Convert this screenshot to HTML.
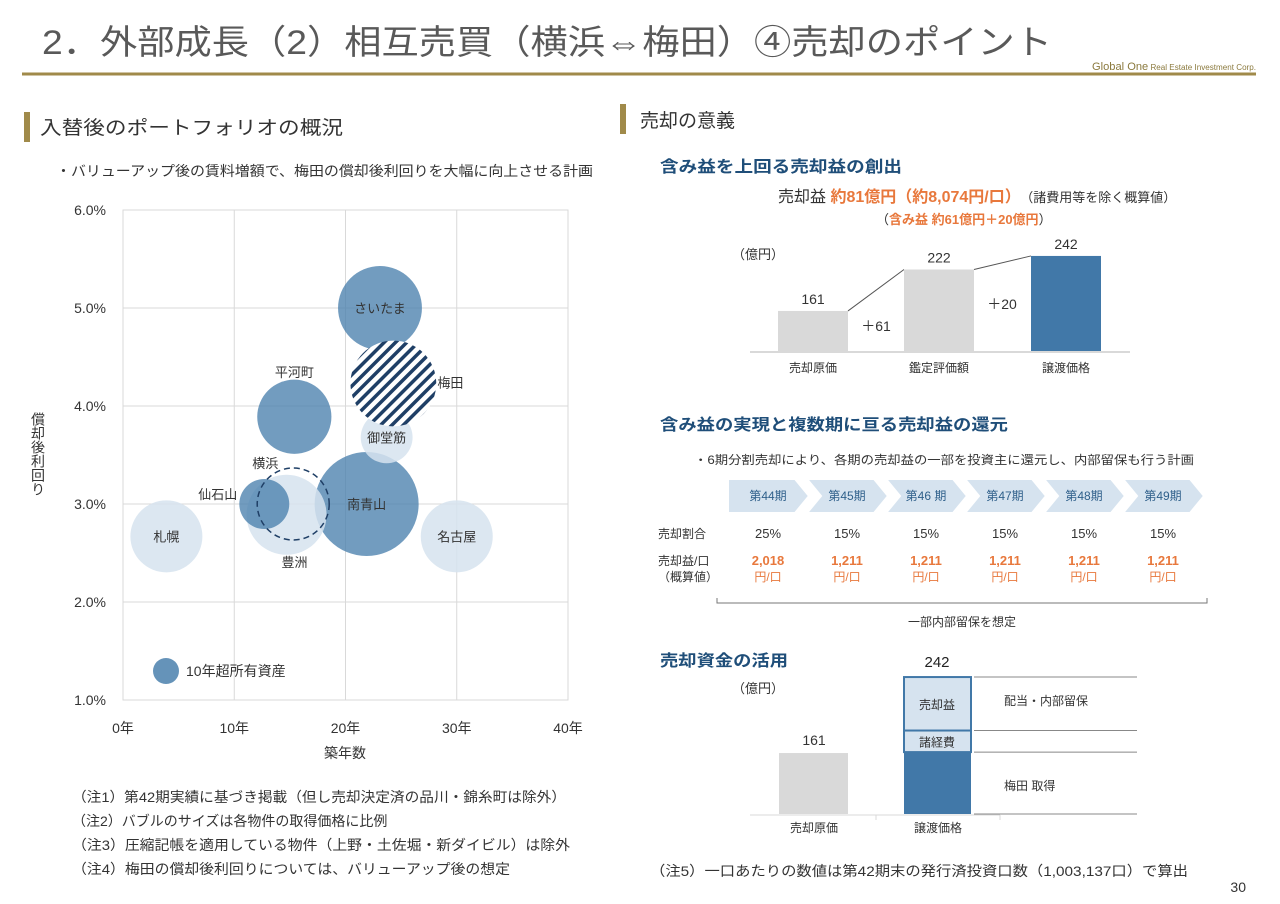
<!DOCTYPE html>
<html><head><meta charset="utf-8"><style>
body{margin:0;background:#fff;}
svg{display:block;font-family:"Liberation Sans","Noto Sans CJK JP",sans-serif;}
</style></head><body>
<svg id="s" width="1280" height="904" viewBox="0 0 1280 904" xmlns="http://www.w3.org/2000/svg">
<defs>
<pattern id="hatch" patternUnits="userSpaceOnUse" width="8" height="8" patternTransform="rotate(45)">
<rect width="8" height="8" fill="#fff"/><rect width="3.5" height="8" fill="#1f3f66"/>
</pattern>
</defs>
<text x="42" y="54" font-size="34" fill="#595959" textLength="1010" lengthAdjust="spacingAndGlyphs">2．外部成長（2）相互売買（横浜⇔梅田）④売却のポイント</text>
<line x1="22" y1="74" x2="1256" y2="74" stroke="#a08a4a" stroke-width="3"/>
<text x="1092" y="70" font-size="8" fill="#8b7a3e" textLength="164" lengthAdjust="spacingAndGlyphs"><tspan font-size="11">Global One</tspan> Real Estate Investment Corp.</text>

<rect x="24" y="112" width="6" height="30" fill="#a08a4a"/>
<text x="40" y="134" font-size="19" fill="#333" textLength="303" lengthAdjust="spacingAndGlyphs">入替後のポートフォリオの概況</text>
<text x="56" y="176" font-size="14" fill="#333" textLength="537" lengthAdjust="spacingAndGlyphs">・バリューアップ後の賃料増額で、梅田の償却後利回りを大幅に向上させる計画</text>

<rect x="620" y="104" width="6" height="30" fill="#a08a4a"/>
<text x="640" y="127" font-size="19" fill="#333">売却の意義</text>

<g id="bubble"></g>

<text x="72" y="802" font-size="14" fill="#333" textLength="494" lengthAdjust="spacingAndGlyphs">（注1）第42期実績に基づき掲載（但し売却決定済の品川・錦糸町は除外）</text>
<text x="72" y="826" font-size="14" fill="#333">（注2）バブルのサイズは各物件の取得価格に比例</text>
<text x="72" y="850" font-size="14" fill="#333" textLength="498" lengthAdjust="spacingAndGlyphs">（注3）圧縮記帳を適用している物件（上野・土佐堀・新ダイビル）は除外</text>
<text x="72" y="874" font-size="14" fill="#333" textLength="438" lengthAdjust="spacingAndGlyphs">（注4）梅田の償却後利回りについては、バリューアップ後の想定</text>

<text x="660" y="172" font-size="16" font-weight="bold" fill="#1f4e79" textLength="242" lengthAdjust="spacingAndGlyphs">含み益を上回る売却益の創出</text>
<text x="778" y="202" font-size="16" fill="#333">売却益 <tspan fill="#e8783c" font-weight="bold">約81億円（約8,074円/口）</tspan><tspan font-size="13" dx="6">（諸費用等を除く概算値）</tspan></text>
<text x="876" y="224" font-size="13" fill="#333">（<tspan fill="#e8783c" font-weight="bold">含み益 約61億円＋20億円</tspan>）</text>
<g id="wf"></g>

<text x="660" y="430" font-size="16" font-weight="bold" fill="#1f4e79" textLength="348" lengthAdjust="spacingAndGlyphs">含み益の実現と複数期に亘る売却益の還元</text>
<text x="694" y="464" font-size="12" fill="#333" textLength="500" lengthAdjust="spacingAndGlyphs">・6期分割売却により、各期の売却益の一部を投資主に還元し、内部留保も行う計画</text>
<g id="periods"></g>
<text x="658" y="538" font-size="12" fill="#333">売却割合</text>
<text x="658" y="565" font-size="12" fill="#333">売却益/口</text>
<text x="658" y="581" font-size="12" fill="#333">（概算値）</text>
<path d="M717 598 V603 H1207 V598" fill="none" stroke="#777"/>
<text x="962" y="626" font-size="12" fill="#333" text-anchor="middle">一部内部留保を想定</text>

<text x="660" y="666" font-size="16" font-weight="bold" fill="#1f4e79" textLength="128" lengthAdjust="spacingAndGlyphs">売却資金の活用</text>
<g id="st"></g>
<text x="650" y="876" font-size="14" fill="#333" textLength="538" lengthAdjust="spacingAndGlyphs">（注5）一口あたりの数値は第42期末の発行済投資口数（1,003,137口）で算出</text>
<text x="1246" y="892" font-size="14" fill="#333" text-anchor="end">30</text>
</svg>
<script>
// ---- bubble chart data ----
const bubbleNames=["さいたま","梅田","平河町","御堂筋","南青山","仙石山","豊洲","横浜","札幌","名古屋"];
const bubbleAge=[23.1,24.3,15.4,23.7,21.9,12.7,14.7,15.3,3.9,30.0];
const bubbleYield=[5.0,4.23,3.89,3.68,3.0,3.0,2.89,3.0,2.67,2.67];
const bubblePrice=[110,115,86,42,169,39,100,81,81,81];
const bubbleOver10=[true,false,true,false,true,true,false,false,false,false];
const xTicks=[0,10,20,30,40];
const yTicks=[1,2,3,4,5,6];
// ---- waterfall ----
const wfCats=["売却原価","鑑定評価額","譲渡価格"];
const wfVals=[161,222,242];
const wfDeltas=["+61","+20"];
// ---- periods ----
const periodNames=["第44期","第45期","第46 期","第47期","第48期","第49期"];
const periodRatio=["25%","15%","15%","15%","15%","15%"];
const periodGain=["2,018","1,211","1,211","1,211","1,211","1,211"];
// ---- stacked ----
const stCats=["売却原価","譲渡価格"];
const stCost=[161];
const stSegNames=["梅田 取得","諸経費","売却益"];
const stSegVals=[162,23,57];

const NS="http://www.w3.org/2000/svg";
function mk(p,tag,at,txt){const e=document.createElementNS(NS,tag);for(const k in at)e.setAttribute(k,at[k]);if(txt!==undefined)e.textContent=txt;p.appendChild(e);return e;}

// bubble
const B=document.getElementById('bubble');
const bx=v=>123+v*(568-123)/40, by=v=>700-(v-1)*98;
const br=p=>4*Math.sqrt(p);
mk(B,'rect',{x:123,y:210,width:445,height:490,fill:'none',stroke:'#d9d9d9'});
xTicks.forEach(t=>{const l=mk(B,'line',{x1:bx(t),x2:bx(t),y1:210,y2:700,stroke:'#d9d9d9'});

const tx=mk(B,'text',{x:bx(t),y:733,'font-size':14,'text-anchor':'middle',fill:'#333'},t+'年');
});
yTicks.forEach(t=>{const l=mk(B,'line',{x1:123,x2:568,y1:by(t),y2:by(t),stroke:'#d9d9d9'});

const tx=mk(B,'text',{x:106,y:by(t)+5,'font-size':14,'text-anchor':'end',fill:'#333'},t.toFixed(1)+'%');
});
let xt=mk(B,'text',{x:345,y:758,'font-size':14,'text-anchor':'middle',fill:'#333'},'築年数');

let yt=mk(B,'text',{x:38,y:412,'font-size':14,fill:'#333','writing-mode':'tb'},'償却後利回り');

const order=[8,9,4,0,2,3,6,5,1,7];
const labelOff={0:[0,5,'middle'],1:[44,4,'start'],2:[0,-40,'middle'],3:[0,5,'middle'],4:[0,5,'middle'],5:[-27,-5,'end'],6:[8,52,'middle'],7:[-28,-36,'middle'],8:[0,5,'middle'],9:[0,5,'middle']};
order.forEach(i=>{
 const cx=bx(bubbleAge[i]),cy=by(bubbleYield[i]),r=br(bubblePrice[i]);
 let at={cx:cx,cy:cy,r:r};
 if(i===1){at.fill='url(#hatch)';}
 else if(i===7){at.fill='none';at.stroke='#1f3f66';at['stroke-width']=1.5;at['stroke-dasharray']='6,4';}
 else if(bubbleOver10[i]){at.fill='#4a80ad';at['fill-opacity']=0.78;}
 else {at.fill='#d6e3ef';at['fill-opacity']=0.85;}
 const c=mk(B,'circle',at);
 
 
});
order.forEach(i=>{
 const o=labelOff[i];
 const t=mk(B,'text',{x:bx(bubbleAge[i])+o[0],y:by(bubbleYield[i])+o[1],'font-size':13,'text-anchor':o[2],fill:'#333'},bubbleNames[i]);
 
 
});
let lc=mk(B,'circle',{cx:166,cy:671,r:13,fill:'#4a80ad','fill-opacity':0.85});

let lt=mk(B,'text',{x:186,y:676,'font-size':14,fill:'#333'},'10年超所有資産');


// waterfall
const W=document.getElementById('wf');
const wy=v=>351-(v-102)*0.679;
const wxs=[778,904,1031];
mk(W,'text',{x:732,y:259,'font-size':13,fill:'#333'},'（億円）');
mk(W,'line',{x1:750,x2:1130,y1:352,y2:352,stroke:'#d9d9d9','stroke-width':2});
wfVals.forEach((v,i)=>{
 const r=mk(W,'rect',{x:wxs[i],y:wy(v),width:70,height:351-wy(v),fill:i===2?'#4178a8':'#d9d9d9'});
 
 
 const t=mk(W,'text',{x:wxs[i]+35,y:wy(v)-7,'font-size':14,'text-anchor':'middle',fill:'#333'},v);
 
 
 const c=mk(W,'text',{x:wxs[i]+35,y:372,'font-size':12,'text-anchor':'middle',fill:'#333'},wfCats[i]);
 
 
 if(i<2){
  const ln=mk(W,'line',{x1:wxs[i]+70,y1:wy(v),x2:wxs[i+1],y2:wy(wfVals[i+1]),stroke:'#555'});
  
  
  const d=mk(W,'text',{x:wxs[i]+98,y:i===0?331:309,'font-size':14,'text-anchor':'middle',fill:'#333'},wfDeltas[i].replace('+','＋'));
  
  
 }
});

// periods
const P=document.getElementById('periods');
periodNames.forEach((n,i)=>{
 const x0=728+i*79,w=81,y0=479,h=34;
 const pts=`${x0},${y0} `+`${x0+w-14},${y0} ${x0+w},${y0+h/2} ${x0+w-14},${y0+h} ${x0},${y0+h}`+(i===0?'':` ${x0+14},${y0+h/2}`);
 const pg=mk(P,'polygon',{points:pts,fill:'#d6e3ef',stroke:'#fff','stroke-width':2});
 
 
 const cx=x0+40;
 const t=mk(P,'text',{x:cx,y:500,'font-size':12,'text-anchor':'middle',fill:'#2e5f8a'},n);
 
 const r=mk(P,'text',{x:cx,y:538,'font-size':13,'text-anchor':'middle',fill:'#333'},periodRatio[i]);
 
 const g=mk(P,'text',{x:cx,y:565,'font-size':13,'font-weight':'bold','text-anchor':'middle',fill:'#e8783c'},periodGain[i]);
 
 const u=mk(P,'text',{x:cx,y:581,'font-size':12,'text-anchor':'middle',fill:'#e8783c'},'円/口');
 
});

// stacked
const S=document.getElementById('st');
const sy=v=>814-(v-96)*0.938;
const syh=v=>v*0.938;
mk(S,'text',{x:732,y:693,'font-size':13,fill:'#333'},'（億円）');
mk(S,'line',{x1:750,x2:1000,y1:815,y2:815,stroke:'#d9d9d9'});
mk(S,'line',{x1:876,x2:876,y1:815,y2:820,stroke:'#d9d9d9'});
mk(S,'line',{x1:1000,x2:1000,y1:815,y2:820,stroke:'#d9d9d9'});
const cb=mk(S,'rect',{x:779,y:sy(stCost[0]),width:69,height:814-sy(stCost[0]),fill:'#d9d9d9'});

let cv=mk(S,'text',{x:814,y:sy(stCost[0])-8,'font-size':14,'text-anchor':'middle',fill:'#333'},stCost[0]);

let acc=814;
stSegVals.forEach((v,i)=>{
 const h=i===0?814-sy(v):syh(v);
 const top=acc-h;
 const r=mk(S,'rect',{x:904,y:top,width:67,height:h,fill:i===0?'#4178a8':'#d6e3ef',stroke:'#4178a8','stroke-width':i===0?0:2});
 
 
 mk(S,'line',{x1:974,x2:1137,y1:top,y2:top,stroke:'#888'});
 if(i>0){const t=mk(S,'text',{x:937,y:top+h/2+5,'font-size':12,'text-anchor':'middle',fill:'#333'},stSegNames[i]);
 }
 acc=top;
});
mk(S,'line',{x1:974,x2:1137,y1:814,y2:814,stroke:'#888'});
let sd1=mk(S,'text',{x:1004,y:705,'font-size':12,fill:'#333'},'配当・内部留保');

let sd2=mk(S,'text',{x:1004,y:790,'font-size':12,fill:'#333'},'梅田 取得');

const total=stSegVals.reduce((a,b)=>a+b,0);
let tv=mk(S,'text',{x:937,y:acc-10,'font-size':15,'text-anchor':'middle',fill:'#222'},total);

stCats.forEach((c,i)=>{const t=mk(S,'text',{x:[814,938][i],y:832,'font-size':12,'text-anchor':'middle',fill:'#333'},c);
});
</script>
</body></html>
